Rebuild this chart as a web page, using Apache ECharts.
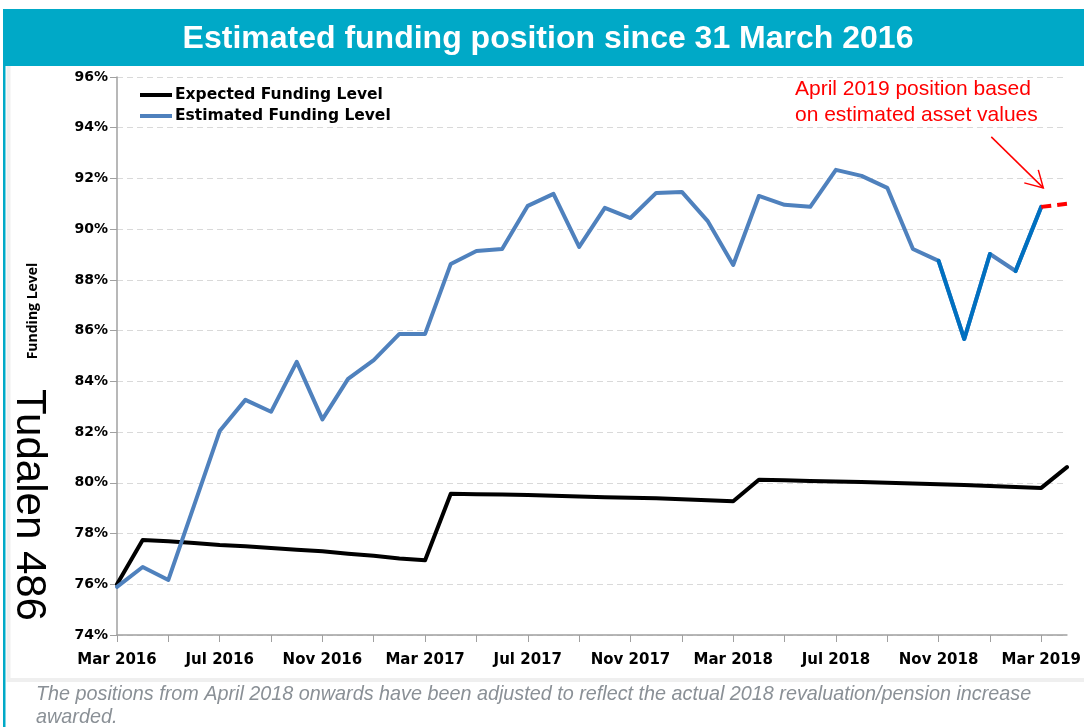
<!DOCTYPE html>
<html>
<head>
<meta charset="utf-8">
<title>Estimated funding position since 31 March 2016</title>
<script src="https://cdn.jsdelivr.net/npm/echarts@6/dist/echarts.min.js"></script>
<style>
  html, body { margin: 0; padding: 0; background: #ffffff; }
  #chart { width: 1084px; height: 727px; }
</style>
</head>
<body>
<div id="chart"></div>
<script>
// Monthly valuation dates, March 2016 to April 2019
const months = [
  'Mar 2016','Apr 2016','May 2016','Jun 2016','Jul 2016','Aug 2016','Sep 2016','Oct 2016','Nov 2016','Dec 2016','Jan 2017','Feb 2017',
  'Mar 2017','Apr 2017','May 2017','Jun 2017','Jul 2017','Aug 2017','Sep 2017','Oct 2017','Nov 2017','Dec 2017','Jan 2018','Feb 2018',
  'Mar 2018','Apr 2018','May 2018','Jun 2018','Jul 2018','Aug 2018','Sep 2018','Oct 2018','Nov 2018','Dec 2018','Jan 2019','Feb 2019',
  'Mar 2019','Apr 2019'
];

// Expected funding level (%)
const expected = [
  76.00, 77.75, 77.70, 77.63, 77.55, 77.50, 77.43, 77.36, 77.30, 77.20, 77.12, 77.02,
  76.95, 79.57, 79.55, 79.54, 79.52, 79.49, 79.46, 79.43, 79.41, 79.39, 79.35, 79.31,
  79.27, 80.12, 80.10, 80.07, 80.05, 80.03, 80.00, 79.97, 79.94, 79.91, 79.87, 79.84,
  79.80, 80.62
];

// Estimated funding level (%); the final month is based on estimated asset values
const estimated = [
  75.90, 76.68, 76.17, 79.10, 82.04, 83.27, 82.80, 84.77, 82.50, 84.10, 84.84, 85.87,
  85.87, 88.63, 89.14, 89.22, 90.92, 91.39, 89.30, 90.84, 90.44, 91.43, 91.47, 90.33,
  88.59, 91.31, 90.96, 90.88, 92.34, 92.10, 91.63, 89.22, 88.75, 85.67, 89.02, 88.35,
  90.88, 91.00
];

// Month-index runs of the estimated line drawn in the stronger blue
const highlightRuns = [[32, 34], [35, 36]];
// Month-index run drawn as the dashed red projection
const projectionRun = [36, 37];

const yMin = 74, yMax = 96, yStep = 2;

const TEAL = '#00A9C7';
const BLUE = '#4F81BD';
const BRIGHT_BLUE = '#0070C0';
const RED = '#FF0000';

function slice(values, from, to) {
  return values.map((v, i) => (i >= from && i <= to ? v : null));
}

const mainEstimated = slice(estimated, 0, projectionRun[0]);

const lineCommon = {
  type: 'line',
  showSymbol: false,
  symbol: 'none',
  smooth: false,
  silent: true,
  connectNulls: false
};

const series = [
  Object.assign({}, lineCommon, {
    name: 'Expected Funding Level',
    data: expected,
    lineStyle: { color: '#000000', width: 4, join: 'round', cap: 'round' },
    itemStyle: { color: '#000000' },
    z: 2
  }),
  Object.assign({}, lineCommon, {
    name: 'Estimated Funding Level',
    data: mainEstimated,
    lineStyle: { color: BLUE, width: 4, join: 'round', cap: 'round' },
    itemStyle: { color: BLUE },
    z: 3
  })
];

highlightRuns.forEach(([a, b], k) => {
  series.push(Object.assign({}, lineCommon, {
    name: 'highlight' + k,
    data: slice(estimated, a, b),
    lineStyle: { color: BRIGHT_BLUE, width: 4, join: 'round', cap: 'round' },
    itemStyle: { color: BRIGHT_BLUE },
    z: 4
  }));
});

series.push(Object.assign({}, lineCommon, {
  name: 'projection',
  data: slice(estimated, projectionRun[0], projectionRun[1]),
  lineStyle: { color: RED, width: 4, type: [10, 6] },
  itemStyle: { color: RED },
  z: 5
}));

const chart = echarts.init(document.getElementById('chart'), null, { renderer: 'canvas' });

const boldSans = { fontFamily: 'DejaVu Sans', fontWeight: 'bold', color: '#000000' };

chart.setOption({
  animation: false,
  backgroundColor: '#ffffff',
  grid: { left: 117, right: 16, top: 77, bottom: 92, containLabel: false },
  legend: {
    data: ['Expected Funding Level', 'Estimated Funding Level'],
    orient: 'vertical',
    left: 135,
    top: 82,
    itemWidth: 32,
    itemHeight: 4,
    itemGap: 5,
    icon: 'rect',
    selectedMode: false,
    textStyle: Object.assign({ fontSize: 15.5, padding: [0, 0, 0, -2] }, boldSans)
  },
  xAxis: {
    type: 'category',
    data: months,
    boundaryGap: false,
    axisLine: { show: true, lineStyle: { color: '#A0A0A0', width: 1.5 } },
    axisTick: { show: true, interval: 1, length: 7, lineStyle: { color: '#A0A0A0' } },
    axisLabel: Object.assign({ interval: 3, margin: 18, fontSize: 15 }, boldSans),
    splitLine: { show: false }
  },
  yAxis: {
    type: 'value',
    min: yMin,
    max: yMax,
    interval: yStep,
    axisLine: { show: true, lineStyle: { color: '#A0A0A0', width: 1.5 } },
    axisTick: { show: true, length: 7, lineStyle: { color: '#A0A0A0' } },
    axisLabel: Object.assign({ margin: 9, fontSize: 14, formatter: '{value}%' }, boldSans),
    splitLine: { show: true, lineStyle: { color: '#D9D9D9', type: [6, 4], width: 1 } }
  },
  series: series
});

// Arrow pointing at the final projected position
const endPt = chart.convertToPixel({ gridIndex: 0 }, [projectionRun[0], estimated[projectionRun[0]]]);
const tip = [endPt[0] + 2, endPt[1] - 19];
const tail = [tip[0] - 52, tip[1] - 51];

chart.setOption({
  graphic: [
    // soft panel edge around the plot
    { type: 'rect', shape: { x: 8.5, y: 64, width: 1080, height: 616 },
      style: { fill: 'none', stroke: '#EFEFEF', lineWidth: 4 }, silent: true, z: -1 },
    // header band
    { type: 'rect', shape: { x: 3, y: 9, width: 1081, height: 57 }, style: { fill: TEAL }, silent: true, z: 10 },
    { type: 'text', x: 548, y: 39,
      style: { text: 'Estimated funding position since 31 March 2016', fill: '#ffffff',
               align: 'center', verticalAlign: 'middle',
               font: 'bold 32px "Liberation Sans", Arial, sans-serif' }, silent: true, z: 11 },
    // left frame rule
    { type: 'rect', shape: { x: 3, y: 66, width: 2.5, height: 661 }, style: { fill: TEAL }, silent: true, z: 10 },
    // axis title
    { type: 'text', x: 33, y: 311, rotation: Math.PI / 2,
      style: { text: 'Funding Level', fill: '#000000', align: 'center', verticalAlign: 'middle',
               font: 'bold 14px "Open Sans", sans-serif' }, silent: true, z: 11 },
    // page tag
    { type: 'text', x: 29, y: 505, rotation: -Math.PI / 2,
      style: { text: 'Tudalen 486', fill: '#000000', align: 'center', verticalAlign: 'middle',
               font: '42px "Liberation Sans", Arial, sans-serif' }, silent: true, z: 11 },
    // annotation
    { type: 'text', left: 795, top: 76,
      style: { text: 'April 2019 position based\non estimated asset values', fill: RED,
               font: '21px "Liberation Sans", Arial, sans-serif', lineHeight: 26 }, silent: true, z: 11 },
    { type: 'line', shape: { x1: tail[0], y1: tail[1], x2: tip[0], y2: tip[1] },
      style: { stroke: RED, lineWidth: 1.5 }, silent: true, z: 11 },
    { type: 'polyline', shape: { points: [[tip[0] - 19, tip[1] - 5], tip, [tip[0] - 5, tip[1] - 18]] },
      style: { stroke: RED, lineWidth: 1.5, fill: 'none' }, silent: true, z: 11 },
    // footnote
    { type: 'text', left: 36, top: 683,
      style: { text: 'The positions from April 2018 onwards have been adjusted to reflect the actual 2018 revaluation/pension increase\nawarded.',
               fill: '#8A9096', font: 'italic 19.8px "Liberation Sans", Arial, sans-serif', lineHeight: 23 }, silent: true, z: 11 }
  ]
});
</script>
</body>
</html>
